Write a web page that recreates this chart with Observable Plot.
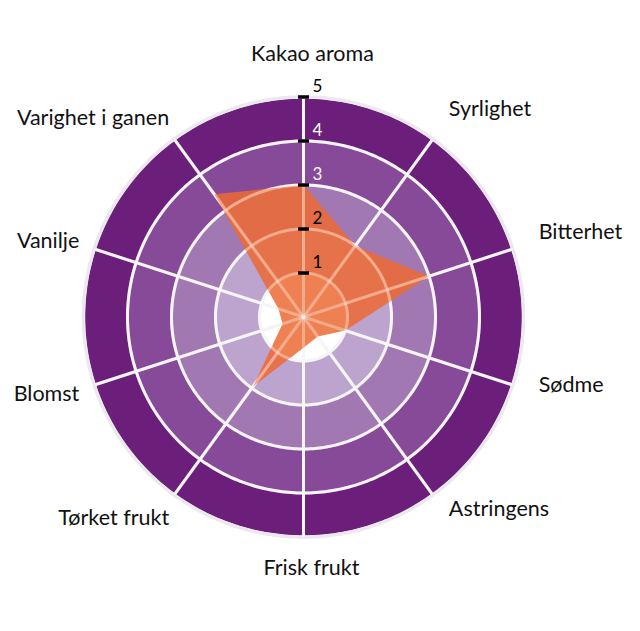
<!DOCTYPE html>
<html>
<head>
<meta charset="utf-8">
<script src="https://cdn.jsdelivr.net/npm/d3@7"></script>
<script src="https://cdn.jsdelivr.net/npm/@observablehq/plot@0.6"></script>
<style>
  html, body { margin: 0; padding: 0; background: #fff; }
</style>
</head>
<body>
<div id="chart"></div>
<script>
// ---- data ----
const categories = ["Kakao aroma", "Syrlighet", "Bitterhet", "Sødme", "Astringens",
  "Frisk frukt", "Tørket frukt", "Blomst", "Vanilje", "Varighet i ganen"];
const values = [3.0, 2.0, 3.0, 1.0, 0.55, 0.7, 1.95, 0.5, 0.6, 3.45];
const ringLevels = [5, 4, 3, 2, 1];
const tickValues = [1, 2, 3, 4, 5];

// ---- styles ----
const ringPalette = ["#6b1f7b", "#874a98", "#a278b3", "#bca4cf", "#ffffff"];
const gridColor = "#f1f0f2";
const polyColor = "#ec6a33";
const labelFont = "Lato";

// ---- helpers (polar via azimuthal projection: longitude = angle, latitude = 90 - value) ----
const maxValue = d3.max(ringLevels);
const step = 360 / categories.length;
const lon = (name) => 180 - step * categories.indexOf(name);
const lat = (v) => 90 - v;
const table = categories.map((c, i) => ({axis: c, value: values[i]}));
const circle = (r) => d3.geoCircle().center([0, 90]).radius(r).precision(1)();

const extent = maxValue * 303 / 220; // frame half-width corresponds to this many units
const labelR = 5.62;

const tickBar = {draw(ctx) { ctx.rect(-5.5, -1.75, 11, 3.5); }};

const side = (name) => Math.sin(step * categories.indexOf(name) * Math.PI / 180);

const chart = Plot.plot({
  width: 640,
  height: 631,
  marginLeft: 0,
  marginRight: 34,
  marginTop: 13.5,
  marginBottom: 11.5,
  style: {fontFamily: labelFont, background: "white", overflow: "visible"},
  projection: {
    type: "azimuthal-equidistant",
    rotate: [0, -90],
    domain: circle(extent)
  },
  color: {type: "ordinal", domain: ringLevels, range: ringPalette},
  marks: [
    // rings
    Plot.geo(ringLevels, {
      geometry: circle,
      fill: (d) => d,
      stroke: gridColor,
      strokeWidth: 3
    }),
    // radial axes
    Plot.link(categories, {
      x1: lon, y1: lat(maxValue), x2: lon, y2: lat(0),
      stroke: gridColor, strokeWidth: 3
    }),
    // outer border
    Plot.geo([maxValue], {geometry: circle, fill: "none", stroke: "#ece9ee", strokeWidth: 3.5}),
    // data polygon
    Plot.line(table, {
      x: (d) => lon(d.axis),
      y: (d) => lat(d.value),
      curve: "linear-closed",
      fill: polyColor,
      fillOpacity: 0.85,
      stroke: "none"
    }),
    // faint grid on top of polygon
    Plot.geo(ringLevels.filter((r) => r < maxValue), {
      geometry: circle, fill: "none", stroke: "white", strokeOpacity: 0.35, strokeWidth: 3
    }),
    Plot.link(categories, {
      x1: lon, y1: lat(maxValue), x2: lon, y2: lat(0),
      stroke: "white", strokeOpacity: 0.35, strokeWidth: 3
    }),
    // ticks on first axis
    Plot.dot(tickValues, {
      x: () => lon(categories[0]), y: (d) => lat(d),
      symbol: tickBar, fill: "black", stroke: "none"
    }),
    Plot.text(tickValues, {
      x: () => lon(categories[0]), y: (d) => lat(d),
      text: (d) => String(d),
      textAnchor: "start", dx: 9, dy: -10, fontSize: 17,
      fill: (d) => (d === 3 || d === 4 ? "white" : "black")
    }),
    // category labels: top
    Plot.text(categories, {
      filter: (d) => Math.abs(side(d)) < 0.1 && categories.indexOf(d) === 0,
      x: lon, y: lat(labelR), text: (d) => d,
      textAnchor: "middle", dx: 9, dy: -16, fontSize: 21.5, fill: "#111"
    }),
    // bottom
    Plot.text(categories, {
      filter: (d) => Math.abs(side(d)) < 0.1 && categories.indexOf(d) !== 0,
      x: lon, y: lat(labelR), text: (d) => d,
      textAnchor: "middle", dx: 8, dy: 4, fontSize: 21.5, fill: "#111"
    }),
    // right side
    Plot.text(categories, {
      filter: (d) => side(d) >= 0.1,
      x: lon, y: lat(labelR), text: (d) => d,
      textAnchor: "start", dy: -8, fontSize: 21.5, fill: "#111"
    }),
    // left side
    Plot.text(categories, {
      filter: (d) => side(d) <= -0.1,
      x: lon, y: lat(labelR), text: (d) => d,
      textAnchor: "end", dx: 11, dy: 1, fontSize: 21.5, fill: "#111"
    })
  ]
});
document.getElementById("chart").appendChild(chart);
</script>
</body>
</html>
